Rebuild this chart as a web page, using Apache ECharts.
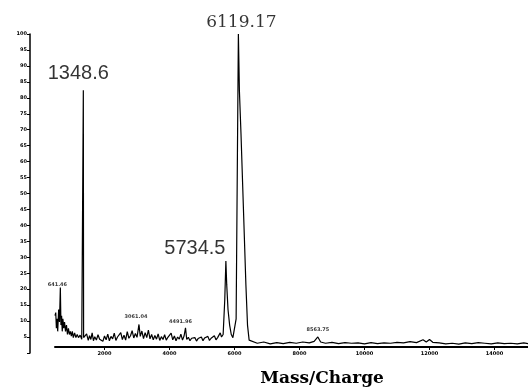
<!DOCTYPE html>
<html>
<head>
<meta charset="utf-8">
<script src="https://cdn.jsdelivr.net/npm/echarts@6/dist/echarts.min.js"></script>
<style>
html,body{margin:0;padding:0;background:#fff;}
#c{width:528px;height:392px;}
</style>
</head>
<body>
<div id="c"></div>
<script>
// m/z values of the trace
var mz = [477,500,520,545,560,590,615,641.46,660,680,700,720,745,770,800,830,860,890,920,950,980,1010,1040,1080,1120,1160,1200,1250,1300,1340,1348.6,1357,1400,
1450,1500,1540,1580,1620,1660,1700,1750,1800,1850,1900,1950,2000,2050,2100,2150,2200,2250,2300,2350,2400,2450,2500,2550,2600,2650,2700,2750,2800,2850,2900,2950,3000,3061.04,3100,3150,3200,3250,3300,3350,3400,3450,3500,3550,3600,3650,3700,3750,3800,3850,3900,3950,4000,4050,4100,4150,4200,4250,4300,4350,4400,4450,4491.96,4530,4580,4630,4680,4730,4780,4830,4880,4930,4980,5030,5080,5130,5180,5230,5280,5330,5380,5430,5480,5520,5560,5600,
5650,5700,5734.5,5760,5800,5850,5900,5950,6000,6050,6090,6119.17,6150,6200,6250,6300,6350,6400,6450,
6500,6700,6900,7100,7300,7500,7700,7900,8100,8300,8450,8563.75,8650,8800,9000,9200,9400,9600,9800,10000,10200,10400,10600,10800,11000,11200,11400,11600,11800,11900,12000,12100,12300,12500,12700,12900,13100,13300,13500,13700,13900,14100,14300,14500,14700,14900,15030];
// relative intensity (%)
var intensity = [10,11,6,9,5,12,8,19,7,10,5,9,6,8,5,7,4,6,4,5,3.5,5,3,4.5,3,4,3,3.8,2.5,3,82,3,2.8,
4.2,2.1,3.6,2.4,4.5,2.0,3.3,2.2,3.9,2.5,3.1,1.8,3.5,2.3,4.1,2.0,3.4,2.6,4.4,2.1,3.2,2.7,4.6,2.4,3.8,2.2,4.9,2.8,3.6,5.2,2.9,4.3,3.1,7.2,3.4,5.1,2.7,4.6,3.0,5.4,2.6,4.0,2.3,3.7,2.5,4.2,2.1,3.3,2.4,3.9,2.2,3.1,2.6,4.4,2.3,3.5,2.0,3.2,2.5,4.1,2.2,3.6,6.1,2.4,3.1,2.0,2.8,2.2,3.0,1.9,2.7,2.3,3.2,2.0,2.9,2.4,3.4,2.1,2.8,2.5,3.6,2.3,3.0,2.6,4.5,3.2,
4,15,27.5,20,12,7,4,3,3.5,9,62,100,82,68,52,36,20,7,2.2,
1.8,1.2,1.6,1.0,1.4,1.1,1.5,1.2,1.6,1.3,1.8,3.2,1.6,1.2,1.5,1.1,1.4,1.2,1.3,1.0,1.4,1.1,1.3,1.2,1.5,1.3,1.7,1.4,2.3,1.6,2.4,1.5,1.3,1.0,1.2,0.9,1.3,1.1,1.4,1.2,1.0,1.3,1.1,1.2,1.0,1.3,1.1];
// annotated peaks
var peakMz = [6119.17, 1348.6, 5734.5, 641.46, 3061.04, 4491.96, 8563.75];
var peakInt = [100, 82, 27.5, 19, 7.2, 6.1, 3.2];
var peakText = ["6119.17", "1348.6", "5734.5", "641.46", "3061.04", "4491.96", "8563.75"];
// tick labels
var xTicks = [2000, 4000, 6000, 8000, 10000, 12000, 14000];
var xName = "Mass/Charge";

var labelStyles = [
  {fontFamily:'DejaVu Serif', fontSize:17, offset:[3,-1]},
  {fontFamily:'Liberation Sans', fontSize:20, offset:[-5,-5]},
  {fontFamily:'Liberation Sans', fontSize:20, offset:[-31,0]},
  {fontFamily:'DejaVu Sans', fontSize:5, fontWeight:'bold', offset:[-3,2]},
  {fontFamily:'DejaVu Sans', fontSize:5, fontWeight:'bold', offset:[-3,-3]},
  {fontFamily:'DejaVu Sans', fontSize:5, fontWeight:'bold', offset:[-5,-2]},
  {fontFamily:'DejaVu Sans', fontSize:5, fontWeight:'bold', offset:[0,-3]}
];

var trace = mz.map(function(m, i){ return [m, intensity[i]]; });
var peaks = peakMz.map(function(m, i){
  var s = labelStyles[i];
  return {value:[m, peakInt[i]], label:{show:true, position:'top', distance:2, color:'#000',
    fontFamily:s.fontFamily, fontSize:s.fontSize, fontWeight:s.fontWeight||'normal', offset:s.offset,
    formatter: peakText[i]}};
});

var chart = echarts.init(document.getElementById('c'), null, {renderer:'canvas'});
chart.setOption({
  backgroundColor:'#fff',
  animation:false,
  grid:[
    {left:30, right:0, top:34, bottom:39},
    {left:55, right:0, top:34, bottom:39}
  ],
  xAxis:[
    {gridIndex:0, type:'value', min:0, max:1, show:false},
    {gridIndex:1, type:'value', min:477, max:15030,
     axisLine:{show:true, onZero:false, lineStyle:{color:'#000', width:2}},
     axisTick:{show:true, length:3, customValues:xTicks, lineStyle:{color:'#000'}},
     axisLabel:{show:true, customValues:xTicks, fontSize:5, fontWeight:'bold', color:'#000', fontFamily:'DejaVu Sans', margin:4,
       formatter:function(v){ return String(v); }},
     splitLine:{show:false},
     name:xName, nameLocation:'middle', nameGap:23,
     nameTextStyle:{fontFamily:'DejaVu Serif', fontSize:17, fontWeight:'bold', color:'#000', padding:[0,0,0,61]}
    }
  ],
  yAxis:[
    {gridIndex:0, type:'value', min:0, max:100, interval:5,
     axisLine:{show:true, lineStyle:{color:'#000', width:1.5}},
     axisTick:{show:true, length:3, lineStyle:{color:'#000'}},
     axisLabel:{show:true, fontSize:5, fontWeight:'bold', color:'#000', fontFamily:'DejaVu Sans', margin:3,
       formatter:function(v){ return v === 0 ? '' : String(v); }},
     splitLine:{show:false}
    },
    {gridIndex:1, type:'value', min:0, max:100, show:false}
  ],
  series:[
    {type:'line', xAxisIndex:1, yAxisIndex:1, data:trace, showSymbol:false, symbol:'none',
     lineStyle:{color:'#000', width:1.2}, z:3},
    {type:'scatter', xAxisIndex:1, yAxisIndex:1, data:peaks, symbolSize:0, z:4}
  ]
});
</script>
</body>
</html>
